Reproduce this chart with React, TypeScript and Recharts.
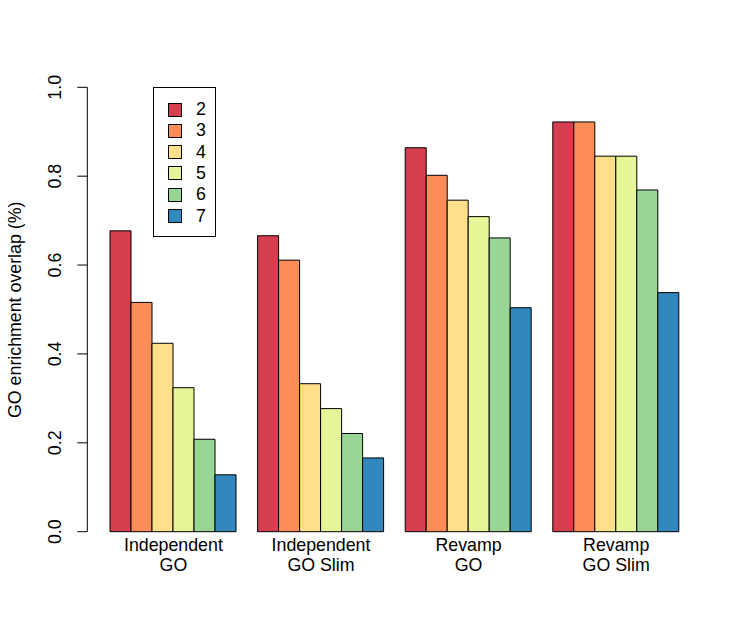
import React from "react";
import { BarChart, Bar, XAxis, YAxis, Label } from "recharts";

const categories = ["Independent\nGO", "Independent\nGO Slim", "Revamp\nGO", "Revamp\nGO Slim"];
const seriesKeys = ["2", "3", "4", "5", "6", "7"];
const seriesColors = ["#D53E4F", "#FC8D59", "#FEE08B", "#E6F598", "#99D594", "#3288BD"];
const values2 = [0.677, 0.666, 0.864, 0.922];
const values3 = [0.516, 0.611, 0.802, 0.922];
const values4 = [0.424, 0.333, 0.746, 0.845];
const values5 = [0.324, 0.277, 0.709, 0.845];
const values6 = [0.208, 0.221, 0.661, 0.769];
const values7 = [0.128, 0.166, 0.504, 0.538];
const yTicks = [0, 0.2, 0.4, 0.6, 0.8, 1.0];
const yTickLabels = ["0.0", "0.2", "0.4", "0.6", "0.8", "1.0"];
const yLabel = "GO enrichment overlap (%)";

const seriesValues = [values2, values3, values4, values5, values6, values7];
const data = categories.map((name, i) => {
  const row: Record<string, any> = { name };
  seriesKeys.forEach((k, j) => {
    row[k] = seriesValues[j][i];
  });
  return row;
});

const FONT = "'Liberation Sans', Arial, Helvetica, sans-serif";

const XTick = (props: any) => {
  const { x, y, payload } = props;
  const lines = String(payload.value).split("\n");
  return (
    <g>
      {lines.map((l: string, i: number) => (
        <text
          key={i}
          x={x}
          y={y + 11 + i * 20.3}
          textAnchor="middle"
          fontFamily={FONT}
          fontSize={17.8}
          fill="#000"
        >
          {l}
        </text>
      ))}
    </g>
  );
};

const YTick = (props: any) => {
  const { x, y, payload } = props;
  const idx = yTicks.indexOf(payload.value);
  const label = idx >= 0 ? yTickLabels[idx] : String(payload.value);
  const tx = x - 14;
  return (
    <text
      x={tx}
      y={y}
      transform={`rotate(-90 ${tx} ${y})`}
      textAnchor="middle"
      fontFamily={FONT}
      fontSize={17.8}
      fill="#000"
    >
      {label}
    </text>
  );
};

const LegendBox = () => (
  <div
    style={{
      position: "absolute",
      left: 153,
      top: 87,
      border: "1px solid #000",
      background: "#fff",
      width: 61,
      height: 148,
      boxSizing: "content-box",
      fontFamily: FONT,
      fontSize: 17.8,
    }}
  >
    {seriesKeys.map((k, i) => (
      <div
        key={k}
        style={{
          position: "absolute",
          left: 0,
          top: 11 + i * 21.3,
          height: 21,
          display: "flex",
          alignItems: "center",
        }}
      >
        <div
          style={{
            marginLeft: 14,
            width: 12,
            height: 12,
            background: seriesColors[i],
            border: "1px solid #000",
          }}
        />
        <span style={{ marginLeft: 14, lineHeight: "21px", color: "#000" }}>{k}</span>
      </div>
    ))}
  </div>
);

export default function App() {
  return (
    <div style={{ position: "absolute", left: 0, top: 0, width: 747, height: 641, background: "#fff" }}>
      <BarChart
        width={747}
        height={641}
        data={data}
        margin={{ top: 87.3, right: 57, bottom: 49.3, left: 0 }}
        barCategoryGap={10.4}
        barGap={0}
      >
        <XAxis
          dataKey="name"
          axisLine={false}
          tickLine={false}
          height={60}
          interval={0}
          padding={{ left: 12.3, right: 0 }}
          tick={<XTick />}
        />
        <YAxis
          domain={[0, 1]}
          ticks={yTicks}
          width={87.3}
          tickSize={10}
          tickMargin={2}
          axisLine={{ stroke: "#000" }}
          tickLine={{ stroke: "#000" }}
          tick={<YTick />}
          interval={0}
        >
          <Label
            content={() => (
              <text
                x={21}
                y={309.8}
                transform="rotate(-90 21 309.8)"
                textAnchor="middle"
                fontFamily={FONT}
                fontSize={17.8}
                fill="#000"
              >
                {yLabel}
              </text>
            )}
          />
        </YAxis>
        {seriesKeys.map((k, i) => (
          <Bar
            key={k}
            dataKey={k}
            fill={seriesColors[i]}
            stroke="#000"
            strokeWidth={1}
            isAnimationActive={false}
          />
        ))}
      </BarChart>
      <LegendBox />
    </div>
  );
}
